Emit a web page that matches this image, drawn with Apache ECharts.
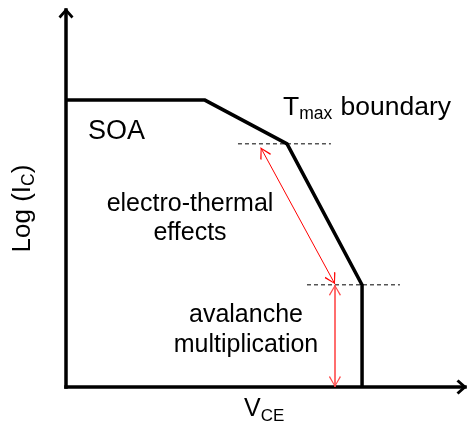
<!DOCTYPE html>
<html>
<head>
<meta charset="utf-8">
<script src="https://cdn.jsdelivr.net/npm/echarts@6/dist/echarts.min.js"></script>
<style>
  html, body { margin: 0; padding: 0; background: #fff; }
  #chart { width: 468px; height: 427px; }
</style>
</head>
<body>
<div id="chart"></div>
<script>
// SOA boundary (arbitrary units, V_CE on x, log(I_C) on y)
const boundaryV = [0, 34.8, 55.4, 74.2, 74.2];
const boundaryI = [76.1, 76.1, 64.5, 27.1, 0];

// dashed reference levels at the two knees
const levelI = [64.5, 27.1];
const levelFrom = [43.1, 60.4];
const levelTo = [66.4, 83.7];

// red double arrows
const thermalArrow = [[48.8, 63.5], [67.4, 27.3]];
const avalancheArrow = [[67.4, 27.1], [67.4, 0]];

const FONT = '"Liberation Sans", Arial, sans-serif';

// open chevron, tip at top; degenerate subpath moves the box centre near the tip
const axisArrow = 'path://M7.5,0 L15,8.5 L13,10.5 L7.5,4.2 L2,10.5 L0,8.5 Z M7.5,-6.5 L7.51,-6.5 Z';
const thinArrow = 'path://M6,0 L12,10 L11,11 L6,1.8 L1,11 L0,10 Z M6,-11 L6.01,-11 Z';

const chart = echarts.init(document.getElementById('chart'));

function axisCommon(max) {
  return {
    type: 'value',
    min: 0,
    max: max,
    axisLine: {
      show: true,
      onZero: false,
      symbol: ['none', axisArrow],
      symbolSize: [15, 17],
      lineStyle: { color: '#000', width: 3.5, cap: 'square' }
    },
    axisTick: { show: false },
    axisLabel: { show: false },
    splitLine: { show: false }
  };
}

// main text + subscript
function subRich(size, subSize, gap) {
  return {
    m: { fontSize: size, fontFamily: FONT, fill: '#000', lineHeight: 30 },
    s: { fontSize: subSize, fontFamily: FONT, fill: '#000', lineHeight: 15, verticalAlign: 'bottom', padding: [0, gap, 0, 0] }
  };
}

const option = {
  animation: false,
  grid: { left: 66, right: 3, top: 10, bottom: 40 },
  xAxis: axisCommon(100),
  yAxis: axisCommon(100),
  series: [
    {
      name: 'SOA boundary',
      type: 'line',
      data: boundaryV.map((v, i) => [v, boundaryI[i]]),
      symbol: 'none',
      lineStyle: { color: '#000', width: 3.5, join: 'miter' },
      z: 3
    },
    ...levelI.map((lv, i) => ({
      name: 'level ' + i,
      type: 'line',
      data: [[levelFrom[i], lv], [levelTo[i], lv]],
      symbol: 'none',
      lineStyle: { color: '#000', width: 1, type: [4, 3] },
      z: 2
    })),
    {
      name: 'arrows',
      type: 'line',
      data: [],
      z: 4,
      markLine: {
        silent: true,
        symbol: [thinArrow, thinArrow],
        symbolSize: [12, 22],
        label: { show: false },
        data: [
          [
            { coord: thermalArrow[0], lineStyle: { color: '#ff0000', width: 1, type: 'solid' } },
            { coord: thermalArrow[1] }
          ],
          [
            { coord: avalancheArrow[0], lineStyle: { color: '#ff4a4a', width: 1.6, type: 'solid' } },
            { coord: avalancheArrow[1] }
          ]
        ]
      }
    }
  ],
  graphic: [
    { type: 'text', x: 88, y: 131.5, style: { text: 'SOA', font: '27px ' + FONT, fill: '#000', verticalAlign: 'middle' } },
    { type: 'text', x: 283, y: 107.7, style: { text: '{m|T}{s|max}{m| boundary}', rich: subRich(26.5, 17.5, 1), verticalAlign: 'middle' } },
    { type: 'text', x: 190, y: 204, style: { text: 'electro-thermal', font: '25px ' + FONT, fill: '#000', align: 'center', verticalAlign: 'middle' } },
    { type: 'text', x: 190, y: 233, style: { text: 'effects', font: '25px ' + FONT, fill: '#000', align: 'center', verticalAlign: 'middle' } },
    { type: 'text', x: 246, y: 315, style: { text: 'avalanche', font: '25px ' + FONT, fill: '#000', align: 'center', verticalAlign: 'middle' } },
    { type: 'text', x: 246, y: 345, style: { text: 'multiplication', font: '25px ' + FONT, fill: '#000', align: 'center', verticalAlign: 'middle' } },
    { type: 'text', x: 244, y: 409.6, style: { text: '{m|V}{s|CE}', rich: subRich(25, 17, 0), verticalAlign: 'middle' } },
    { type: 'text', x: 23.2, y: 208.5, rotation: Math.PI / 2, style: { text: '{m|Log (I}{s|C}{m|)}', rich: subRich(26, 17.5, 0), align: 'center', verticalAlign: 'middle' } }
  ]
};

chart.setOption(option);
</script>
</body>
</html>
